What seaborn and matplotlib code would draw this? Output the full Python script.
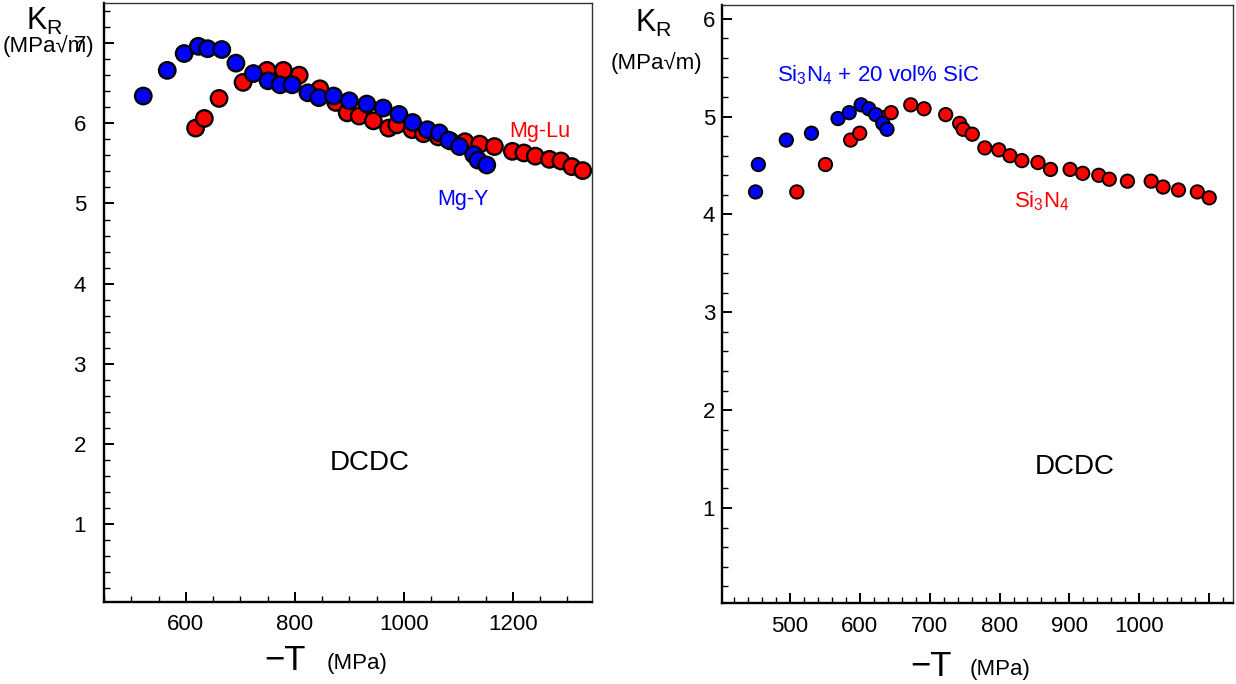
import numpy as np
import pandas as pd
import matplotlib
matplotlib.use("Agg")
import matplotlib.pyplot as plt
import seaborn as sns
from matplotlib.ticker import MultipleLocator, FixedLocator

# ---------------- data ----------------
# Left panel: Mg-Lu (red) and Mg-Y (blue)
mglu_T = [618, 634, 661, 705, 749, 779, 808, 846, 875, 896, 918, 944, 972, 987,
          1015, 1036, 1063, 1085, 1112, 1139, 1166, 1199, 1220, 1241, 1267, 1288,
          1308, 1328]
mglu_K = [5.94, 6.06, 6.31, 6.51, 6.66, 6.66, 6.60, 6.43, 6.26, 6.13, 6.09, 6.03,
          5.94, 5.98, 5.92, 5.87, 5.83, 5.78, 5.77, 5.74, 5.71, 5.65, 5.63, 5.59,
          5.55, 5.53, 5.46, 5.41]
mgy_T = [522, 566, 597, 623, 640, 666, 692, 724, 751, 773, 795, 824, 844, 871,
         900, 932, 962, 991, 1016, 1043, 1065, 1082, 1102, 1128, 1136, 1152]
mgy_K = [6.34, 6.66, 6.87, 6.96, 6.93, 6.92, 6.75, 6.62, 6.53, 6.48, 6.48, 6.38,
         6.32, 6.34, 6.28, 6.24, 6.19, 6.11, 6.01, 5.92, 5.88, 5.79, 5.71, 5.61,
         5.54, 5.48]

# Right panel: Si3N4 (red) and Si3N4 + 20 vol% SiC (blue)
sn_T = [510, 551, 587, 600, 632, 645, 673, 692, 723, 743, 748, 761, 779, 799,
        815, 832, 855, 873, 901, 919, 942, 957, 983, 1017, 1034, 1056, 1083, 1100]
sn_K = [4.23, 4.51, 4.76, 4.83, 4.99, 5.04, 5.12, 5.08, 5.02, 4.93, 4.87, 4.82,
        4.68, 4.66, 4.60, 4.55, 4.53, 4.46, 4.46, 4.42, 4.40, 4.36, 4.34, 4.34,
        4.28, 4.25, 4.23, 4.17]
snsic_T = [451, 455, 495, 531, 569, 585, 602, 613, 623, 633, 639]
snsic_K = [4.23, 4.51, 4.76, 4.83, 4.98, 5.04, 5.12, 5.08, 5.02, 4.93, 4.87]

left_xticks = [600, 800, 1000, 1200]
left_yticks = [1, 2, 3, 4, 5, 6, 7]
right_xticks = [500, 600, 700, 800, 900, 1000, 1100]
right_xticklabels = ["500", "600", "700", "800", "900", "1000", ""]
right_yticks = [1, 2, 3, 4, 5, 6]

RED = "#ff0000"
BLUE = "#0000ff"

# ---------------- style ----------------
sns.set_style("ticks")
plt.rcParams["font.family"] = ["Liberation Sans", "DejaVu Sans"]
plt.rcParams["mathtext.fontset"] = "custom"
plt.rcParams["mathtext.rm"] = "Liberation Sans"
plt.rcParams["text.color"] = "black"
plt.rcParams["xtick.color"] = "black"
plt.rcParams["ytick.color"] = "black"
plt.rcParams["xtick.labelcolor"] = "black"
plt.rcParams["ytick.labelcolor"] = "black"

W, H = 1236, 684
fig = plt.figure(figsize=(W / 100, H / 100), dpi=100)


def px_axes(x0, y0, x1, y1):
    return fig.add_axes([x0 / W, 1 - y1 / H, (x1 - x0) / W, (y1 - y0) / H])


axL = px_axes(104, 3, 592, 602)
axR = px_axes(722, 5, 1233, 603)

dfL = pd.DataFrame({
    "T": mglu_T + mgy_T,
    "K": mglu_K + mgy_K,
    "series": ["Mg-Lu"] * len(mglu_T) + ["Mg-Y"] * len(mgy_T),
})
dfR = pd.DataFrame({
    "T": sn_T + snsic_T,
    "K": sn_K + snsic_K,
    "series": ["Si3N4"] * len(sn_T) + ["SiC"] * len(snsic_T),
})

sns.scatterplot(data=dfL, x="T", y="K", hue="series",
                palette={"Mg-Lu": RED, "Mg-Y": BLUE}, s=140,
                edgecolor="black", linewidth=1.7, legend=False, ax=axL,
                zorder=3)
sns.scatterplot(data=dfR, x="T", y="K", hue="series",
                palette={"Si3N4": RED, "SiC": BLUE}, s=92,
                edgecolor="black", linewidth=1.4, legend=False, ax=axR,
                zorder=3)

axL.set_xlim(450, 1345)
axL.set_ylim(0.03, 7.5)
axR.set_xlim(403, 1134)
axR.set_ylim(0.03, 6.14)

for ax in (axL, axR):
    ax.set_xlabel("")
    ax.set_ylabel("")
    for side in ("left", "bottom"):
        ax.spines[side].set_linewidth(1.7)
        ax.spines[side].set_color("black")
    for side in ("top", "right"):
        ax.spines[side].set_visible(True)
        ax.spines[side].set_linewidth(1.0)
        ax.spines[side].set_color("#333333")
    ax.tick_params(which="both", direction="in", top=False, right=False,
                   labelsize=16, colors="black")
    ax.tick_params(which="major", length=7, width=1.4)
    ax.tick_params(which="minor", length=4, width=1.0)

axL.xaxis.set_major_locator(FixedLocator(left_xticks))
axL.xaxis.set_minor_locator(MultipleLocator(50))
axL.yaxis.set_major_locator(FixedLocator(left_yticks))
axL.yaxis.set_minor_locator(MultipleLocator(0.2))
axL.set_xticklabels([str(v) for v in left_xticks])
axL.set_yticklabels([str(v) for v in left_yticks])
axL.tick_params(axis="y", which="major", pad=13)
axL.tick_params(axis="x", which="major", pad=9)

axR.xaxis.set_major_locator(FixedLocator(right_xticks))
axR.xaxis.set_minor_locator(MultipleLocator(20))
axR.yaxis.set_major_locator(FixedLocator(right_yticks))
axR.yaxis.set_minor_locator(MultipleLocator(0.2))
axR.set_xticklabels(right_xticklabels)
axR.set_yticklabels([str(v) for v in right_yticks])
axR.tick_params(axis="y", which="major", pad=5)
axR.tick_params(axis="x", which="major", pad=9)

# ---------------- annotations ----------------
axL.text(0.894, 0.785, "Mg-Lu", color=RED, fontsize=15.5, ha="center",
         va="center", transform=axL.transAxes)
axL.text(0.736, 0.672, "Mg-Y", color=BLUE, fontsize=15.5, ha="center",
         va="center", transform=axL.transAxes)
axL.text(0.545, 0.232, "DCDC", color="black", fontsize=20, ha="center",
         va="center", transform=axL.transAxes)

axR.text(0.305, 0.883, r"Si$_\mathregular{3}$N$_\mathregular{4}$ + 20 vol% SiC",
         color=BLUE, fontsize=16, ha="center", va="center",
         transform=axR.transAxes)
axR.text(0.626, 0.672, r"Si$_\mathregular{3}$N$_\mathregular{4}$", color=RED,
         fontsize=16, ha="center", va="center", transform=axR.transAxes)
axR.text(0.691, 0.227, "DCDC", color="black", fontsize=20, ha="center",
         va="center", transform=axR.transAxes)


def ftext(x, y, s, **kw):
    fig.text(x / W, 1 - y / H, s, color="black", **kw)


# axis titles
ftext(45, 21, r"K$_\mathregular{R}$", fontsize=22, ha="center", va="center")
ftext(48, 46, "(MPa\u221am)", fontsize=16, ha="center", va="center")
ftext(654, 23, r"K$_\mathregular{R}$", fontsize=22, ha="center", va="center")
ftext(656, 63, "(MPa\u221am)", fontsize=16, ha="center", va="center")

ftext(285, 660, "\u2212T", fontsize=25, ha="center", va="center")
ftext(357, 663, "(MPa)", fontsize=16, ha="center", va="center")
ftext(931, 667, "\u2212T", fontsize=25, ha="center", va="center")
ftext(1000, 669, "(MPa)", fontsize=16, ha="center", va="center")

fig.savefig("out.png", dpi=100)
